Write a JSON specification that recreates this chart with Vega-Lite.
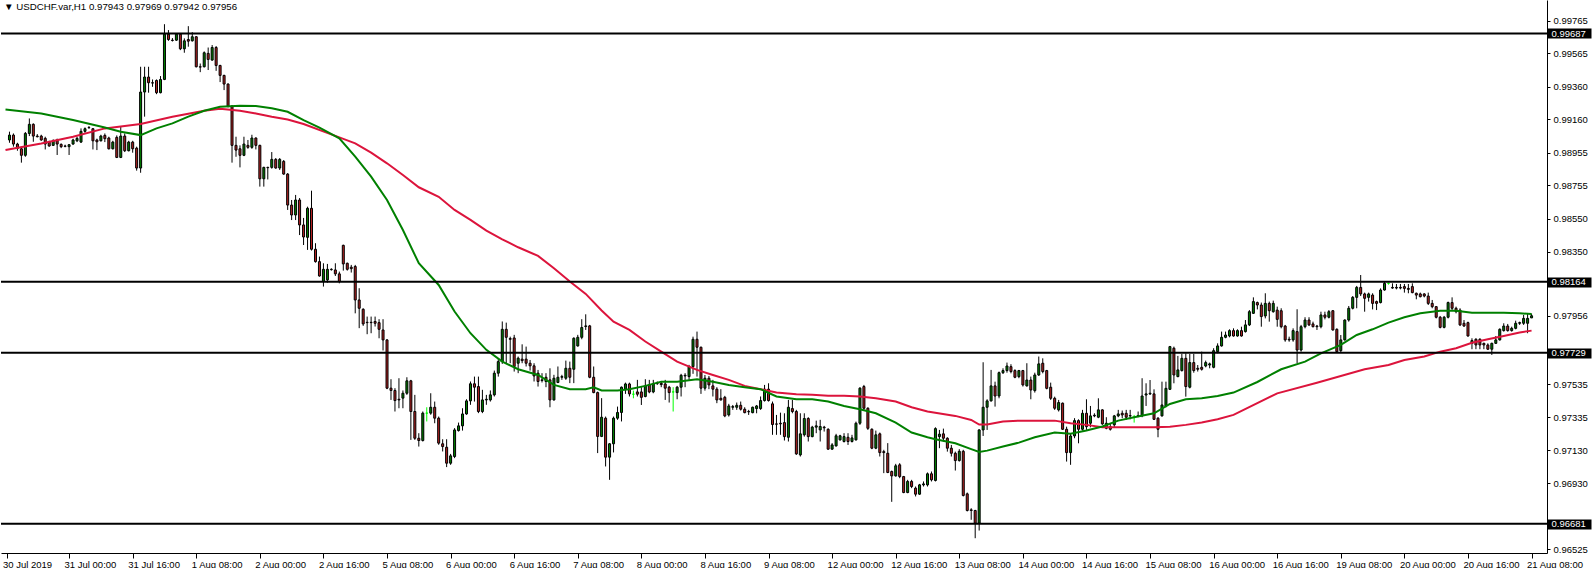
{
  "$schema": "https://vega.github.io/schema/vega-lite/v6.json",
  "width": 1546,
  "height": 553,
  "padding": 0,
  "background": "white",
  "config": {"view": {"stroke": null}},
  "title": {"text": "▼ USDCHF.var,H1  0.97943 0.97969 0.97942 0.97956", "anchor": "start", "frame": "group", "orient": "top", "offset": -12, "font": "Liberation Sans", "fontSize": 9.7, "fontWeight": "normal", "color": "black", "dx": 3},
  "datasets": {
    "candles": [
{"i":1,"o":0.99034,"h":0.99085,"l":0.99017,"c":0.99064},
{"i":2,"o":0.99064,"h":0.99074,"l":0.98993,"c":0.99009},
{"i":3,"o":0.99009,"h":0.99017,"l":0.98968,"c":0.98982},
{"i":4,"o":0.98980,"h":0.98993,"l":0.98895,"c":0.98940},
{"i":5,"o":0.98940,"h":0.99083,"l":0.98931,"c":0.99074},
{"i":6,"o":0.99074,"h":0.99166,"l":0.99058,"c":0.99130},
{"i":7,"o":0.99130,"h":0.99136,"l":0.99023,"c":0.99058},
{"i":8,"o":0.99058,"h":0.99070,"l":0.99050,"c":0.99054},
{"i":9,"o":0.99058,"h":0.99066,"l":0.99029,"c":0.99034},
{"i":10,"o":0.99044,"h":0.99054,"l":0.98976,"c":0.99009},
{"i":11,"o":0.99021,"h":0.99029,"l":0.98993,"c":0.98997},
{"i":12,"o":0.99001,"h":0.99038,"l":0.98997,"c":0.99029},
{"i":13,"o":0.99034,"h":0.99042,"l":0.98942,"c":0.99009},
{"i":14,"o":0.99007,"h":0.99013,"l":0.98984,"c":0.98993},
{"i":15,"o":0.98997,"h":0.99005,"l":0.98989,"c":0.98995},
{"i":16,"o":0.98993,"h":0.99009,"l":0.98942,"c":0.99005},
{"i":17,"o":0.99009,"h":0.99042,"l":0.99005,"c":0.99034},
{"i":18,"o":0.99029,"h":0.99054,"l":0.99021,"c":0.99044},
{"i":19,"o":0.99021,"h":0.99105,"l":0.99017,"c":0.99087},
{"i":20,"o":0.99087,"h":0.99111,"l":0.99078,"c":0.99103},
{"i":21,"o":0.99111,"h":0.99119,"l":0.99103,"c":0.99109},
{"i":22,"o":0.99103,"h":0.99107,"l":0.98976,"c":0.99029},
{"i":23,"o":0.99034,"h":0.99042,"l":0.98972,"c":0.99023},
{"i":24,"o":0.99029,"h":0.99066,"l":0.99025,"c":0.99058},
{"i":25,"o":0.99062,"h":0.99074,"l":0.99021,"c":0.99042},
{"i":26,"o":0.99046,"h":0.99054,"l":0.98976,"c":0.98980},
{"i":27,"o":0.98980,"h":0.99029,"l":0.98976,"c":0.99021},
{"i":28,"o":0.99050,"h":0.99062,"l":0.98923,"c":0.98927},
{"i":29,"o":0.98927,"h":0.99115,"l":0.98923,"c":0.99058},
{"i":30,"o":0.99058,"h":0.99074,"l":0.98960,"c":0.98968},
{"i":31,"o":0.98968,"h":0.99029,"l":0.98964,"c":0.99021},
{"i":32,"o":0.99021,"h":0.99029,"l":0.98956,"c":0.98980},
{"i":33,"o":0.98984,"h":0.98993,"l":0.98846,"c":0.98862},
{"i":34,"o":0.98862,"h":0.99483,"l":0.98833,"c":0.99328},
{"i":35,"o":0.99328,"h":0.99483,"l":0.99177,"c":0.99420},
{"i":36,"o":0.99420,"h":0.99483,"l":0.99324,"c":0.99385},
{"i":37,"o":0.99385,"h":0.99405,"l":0.99360,"c":0.99383},
{"i":38,"o":0.99399,"h":0.99405,"l":0.99315,"c":0.99324},
{"i":39,"o":0.99324,"h":0.99426,"l":0.99320,"c":0.99405},
{"i":40,"o":0.99405,"h":0.99744,"l":0.99401,"c":0.99683},
{"i":41,"o":0.99683,"h":0.99708,"l":0.99642,"c":0.99650},
{"i":42,"o":0.99646,"h":0.99659,"l":0.99638,"c":0.99644},
{"i":43,"o":0.99646,"h":0.99687,"l":0.99642,"c":0.99683},
{"i":44,"o":0.99683,"h":0.99687,"l":0.99585,"c":0.99593},
{"i":45,"o":0.99593,"h":0.99657,"l":0.99569,"c":0.99642},
{"i":46,"o":0.99650,"h":0.99732,"l":0.99606,"c":0.99640},
{"i":47,"o":0.99642,"h":0.99695,"l":0.99638,"c":0.99667},
{"i":48,"o":0.99667,"h":0.99671,"l":0.99479,"c":0.99483},
{"i":49,"o":0.99483,"h":0.99503,"l":0.99450,"c":0.99481},
{"i":50,"o":0.99483,"h":0.99577,"l":0.99479,"c":0.99569},
{"i":51,"o":0.99565,"h":0.99601,"l":0.99463,"c":0.99528},
{"i":52,"o":0.99524,"h":0.99616,"l":0.99520,"c":0.99601},
{"i":53,"o":0.99601,"h":0.99610,"l":0.99458,"c":0.99491},
{"i":54,"o":0.99491,"h":0.99495,"l":0.99389,"c":0.99430},
{"i":55,"o":0.99430,"h":0.99434,"l":0.99340,"c":0.99377},
{"i":56,"o":0.99377,"h":0.99381,"l":0.99234,"c":0.99242},
{"i":57,"o":0.99242,"h":0.99246,"l":0.98895,"c":0.99001},
{"i":58,"o":0.99001,"h":0.99054,"l":0.98931,"c":0.98972},
{"i":59,"o":0.98980,"h":0.99001,"l":0.98866,"c":0.98940},
{"i":60,"o":0.98940,"h":0.99054,"l":0.98935,"c":0.99009},
{"i":61,"o":0.99001,"h":0.99034,"l":0.98980,"c":0.98989},
{"i":62,"o":0.98989,"h":0.99066,"l":0.98980,"c":0.99046},
{"i":63,"o":0.99046,"h":0.99050,"l":0.98976,"c":0.99001},
{"i":64,"o":0.99001,"h":0.99005,"l":0.98748,"c":0.98796},
{"i":65,"o":0.98796,"h":0.98870,"l":0.98748,"c":0.98866},
{"i":66,"o":0.98866,"h":0.98870,"l":0.98792,"c":0.98864},
{"i":67,"o":0.98866,"h":0.98960,"l":0.98858,"c":0.98915},
{"i":68,"o":0.98915,"h":0.98923,"l":0.98858,"c":0.98862},
{"i":69,"o":0.98862,"h":0.98923,"l":0.98850,"c":0.98915},
{"i":70,"o":0.98903,"h":0.98911,"l":0.98821,"c":0.98825},
{"i":71,"o":0.98825,"h":0.98831,"l":0.98605,"c":0.98635},
{"i":72,"o":0.98635,"h":0.98666,"l":0.98543,"c":0.98574},
{"i":73,"o":0.98574,"h":0.98697,"l":0.98543,"c":0.98666},
{"i":74,"o":0.98666,"h":0.98678,"l":0.98451,"c":0.98513},
{"i":75,"o":0.98513,"h":0.98556,"l":0.98390,"c":0.98439},
{"i":76,"o":0.98437,"h":0.98625,"l":0.98360,"c":0.98615},
{"i":77,"o":0.98615,"h":0.98723,"l":0.98356,"c":0.98364},
{"i":78,"o":0.98364,"h":0.98401,"l":0.98282,"c":0.98288},
{"i":79,"o":0.98288,"h":0.98319,"l":0.98196,"c":0.98200},
{"i":80,"o":0.98166,"h":0.98278,"l":0.98135,"c":0.98241},
{"i":81,"o":0.98176,"h":0.98274,"l":0.98159,"c":0.98241},
{"i":82,"o":0.98241,"h":0.98247,"l":0.98233,"c":0.98239},
{"i":83,"o":0.98237,"h":0.98278,"l":0.98200,"c":0.98213},
{"i":84,"o":0.98213,"h":0.98227,"l":0.98155,"c":0.98166},
{"i":85,"o":0.98388,"h":0.98392,"l":0.98233,"c":0.98274},
{"i":86,"o":0.98278,"h":0.98282,"l":0.98233,"c":0.98241},
{"i":87,"o":0.98254,"h":0.98268,"l":0.98221,"c":0.98245},
{"i":88,"o":0.98258,"h":0.98268,"l":0.97971,"c":0.98053},
{"i":89,"o":0.98053,"h":0.98125,"l":0.97880,"c":0.98002},
{"i":90,"o":0.97996,"h":0.98002,"l":0.97894,"c":0.97906},
{"i":91,"o":0.97916,"h":0.97951,"l":0.97843,"c":0.97914},
{"i":92,"o":0.97916,"h":0.97951,"l":0.97849,"c":0.97914},
{"i":93,"o":0.97921,"h":0.97951,"l":0.97890,"c":0.97910},
{"i":94,"o":0.97914,"h":0.97935,"l":0.97818,"c":0.97873},
{"i":95,"o":0.97869,"h":0.97935,"l":0.97743,"c":0.97808},
{"i":96,"o":0.97808,"h":0.97812,"l":0.97506,"c":0.97512},
{"i":97,"o":0.97512,"h":0.97567,"l":0.97440,"c":0.97498},
{"i":98,"o":0.97498,"h":0.97512,"l":0.97369,"c":0.97436},
{"i":99,"o":0.97444,"h":0.97573,"l":0.97389,"c":0.97440},
{"i":100,"o":0.97451,"h":0.97498,"l":0.97389,"c":0.97481},
{"i":101,"o":0.97481,"h":0.97579,"l":0.97471,"c":0.97557},
{"i":102,"o":0.97557,"h":0.97563,"l":0.97195,"c":0.97369},
{"i":103,"o":0.97369,"h":0.97471,"l":0.97195,"c":0.97205},
{"i":104,"o":0.97205,"h":0.97236,"l":0.97154,"c":0.97191},
{"i":105,"o":0.97191,"h":0.97369,"l":0.97185,"c":0.97359},
{"i":106,"o":0.97359,"h":0.97395,"l":0.97308,"c":0.97359},
{"i":107,"o":0.97359,"h":0.97481,"l":0.97349,"c":0.97395},
{"i":108,"o":0.97395,"h":0.97430,"l":0.97297,"c":0.97328},
{"i":109,"o":0.97328,"h":0.97338,"l":0.97165,"c":0.97175},
{"i":110,"o":0.97171,"h":0.97199,"l":0.97124,"c":0.97154},
{"i":111,"o":0.97150,"h":0.97199,"l":0.97028,"c":0.97052},
{"i":112,"o":0.97052,"h":0.97109,"l":0.97042,"c":0.97097},
{"i":113,"o":0.97093,"h":0.97267,"l":0.97083,"c":0.97256},
{"i":114,"o":0.97252,"h":0.97301,"l":0.97246,"c":0.97281},
{"i":115,"o":0.97281,"h":0.97389,"l":0.97252,"c":0.97354},
{"i":116,"o":0.97354,"h":0.97444,"l":0.97349,"c":0.97434},
{"i":117,"o":0.97434,"h":0.97553,"l":0.97410,"c":0.97539},
{"i":118,"o":0.97539,"h":0.97583,"l":0.97430,"c":0.97518},
{"i":119,"o":0.97522,"h":0.97583,"l":0.97359,"c":0.97369},
{"i":120,"o":0.97369,"h":0.97502,"l":0.97359,"c":0.97440},
{"i":121,"o":0.97440,"h":0.97471,"l":0.97410,"c":0.97444},
{"i":122,"o":0.97440,"h":0.97498,"l":0.97430,"c":0.97471},
{"i":123,"o":0.97471,"h":0.97620,"l":0.97461,"c":0.97604},
{"i":124,"o":0.97604,"h":0.97690,"l":0.97583,"c":0.97675},
{"i":125,"o":0.97675,"h":0.97921,"l":0.97661,"c":0.97873},
{"i":126,"o":0.97873,"h":0.97914,"l":0.97665,"c":0.97824},
{"i":127,"o":0.97816,"h":0.97828,"l":0.97665,"c":0.97812},
{"i":128,"o":0.97820,"h":0.97839,"l":0.97614,"c":0.97645},
{"i":129,"o":0.97665,"h":0.97706,"l":0.97604,"c":0.97696},
{"i":130,"o":0.97690,"h":0.97781,"l":0.97665,"c":0.97681},
{"i":131,"o":0.97690,"h":0.97767,"l":0.97645,"c":0.97665},
{"i":132,"o":0.97665,"h":0.97685,"l":0.97620,"c":0.97649},
{"i":133,"o":0.97649,"h":0.97665,"l":0.97553,"c":0.97587},
{"i":134,"o":0.97604,"h":0.97624,"l":0.97522,"c":0.97553},
{"i":135,"o":0.97563,"h":0.97604,"l":0.97547,"c":0.97559},
{"i":136,"o":0.97579,"h":0.97604,"l":0.97518,"c":0.97553},
{"i":137,"o":0.97563,"h":0.97634,"l":0.97395,"c":0.97440},
{"i":138,"o":0.97440,"h":0.97594,"l":0.97436,"c":0.97573},
{"i":139,"o":0.97547,"h":0.97645,"l":0.97543,"c":0.97579},
{"i":140,"o":0.97579,"h":0.97594,"l":0.97563,"c":0.97583},
{"i":141,"o":0.97573,"h":0.97681,"l":0.97563,"c":0.97634},
{"i":142,"o":0.97634,"h":0.97675,"l":0.97543,"c":0.97579},
{"i":143,"o":0.97628,"h":0.97824,"l":0.97543,"c":0.97818},
{"i":144,"o":0.97771,"h":0.97839,"l":0.97767,"c":0.97824},
{"i":145,"o":0.97824,"h":0.97935,"l":0.97812,"c":0.97884},
{"i":146,"o":0.97890,"h":0.97965,"l":0.97869,"c":0.97894},
{"i":147,"o":0.97894,"h":0.97900,"l":0.97573,"c":0.97579},
{"i":148,"o":0.97579,"h":0.97645,"l":0.97481,"c":0.97485},
{"i":149,"o":0.97485,"h":0.97491,"l":0.97114,"c":0.97216},
{"i":150,"o":0.97216,"h":0.97451,"l":0.97212,"c":0.97334},
{"i":151,"o":0.97328,"h":0.97338,"l":0.97032,"c":0.97089},
{"i":152,"o":0.97089,"h":0.97175,"l":0.96950,"c":0.97171},
{"i":153,"o":0.97171,"h":0.97338,"l":0.97118,"c":0.97328},
{"i":154,"o":0.97328,"h":0.97399,"l":0.97318,"c":0.97363},
{"i":155,"o":0.97363,"h":0.97522,"l":0.97308,"c":0.97518},
{"i":156,"o":0.97506,"h":0.97546,"l":0.97477,"c":0.97538},
{"i":157,"o":0.97538,"h":0.97546,"l":0.97461,"c":0.97477},
{"i":158,"o":0.97475,"h":0.97497,"l":0.97450,"c":0.97475},
{"i":159,"o":0.97489,"h":0.97563,"l":0.97461,"c":0.97475},
{"i":160,"o":0.97489,"h":0.97518,"l":0.97409,"c":0.97456},
{"i":161,"o":0.97461,"h":0.97567,"l":0.97456,"c":0.97526},
{"i":162,"o":0.97532,"h":0.97563,"l":0.97481,"c":0.97489},
{"i":163,"o":0.97489,"h":0.97563,"l":0.97481,"c":0.97538},
{"i":164,"o":0.97542,"h":0.97553,"l":0.97532,"c":0.97540},
{"i":165,"o":0.97542,"h":0.97555,"l":0.97518,"c":0.97534},
{"i":166,"o":0.97538,"h":0.97563,"l":0.97440,"c":0.97512},
{"i":167,"o":0.97518,"h":0.97526,"l":0.97424,"c":0.97485},
{"i":168,"o":0.97489,"h":0.97518,"l":0.97369,"c":0.97489},
{"i":169,"o":0.97485,"h":0.97526,"l":0.97444,"c":0.97518},
{"i":170,"o":0.97518,"h":0.97600,"l":0.97461,"c":0.97591},
{"i":171,"o":0.97587,"h":0.97604,"l":0.97518,"c":0.97591},
{"i":172,"o":0.97583,"h":0.97655,"l":0.97563,"c":0.97644},
{"i":173,"o":0.97644,"h":0.97828,"l":0.97600,"c":0.97812},
{"i":174,"o":0.97812,"h":0.97859,"l":0.97583,"c":0.97763},
{"i":175,"o":0.97763,"h":0.97767,"l":0.97477,"c":0.97512},
{"i":176,"o":0.97512,"h":0.97593,"l":0.97497,"c":0.97573},
{"i":177,"o":0.97573,"h":0.97587,"l":0.97506,"c":0.97532},
{"i":178,"o":0.97526,"h":0.97563,"l":0.97461,"c":0.97506},
{"i":179,"o":0.97506,"h":0.97518,"l":0.97420,"c":0.97440},
{"i":180,"o":0.97450,"h":0.97506,"l":0.97436,"c":0.97440},
{"i":181,"o":0.97456,"h":0.97465,"l":0.97334,"c":0.97342},
{"i":182,"o":0.97348,"h":0.97416,"l":0.97338,"c":0.97403},
{"i":183,"o":0.97395,"h":0.97409,"l":0.97379,"c":0.97399},
{"i":184,"o":0.97395,"h":0.97424,"l":0.97379,"c":0.97407},
{"i":185,"o":0.97407,"h":0.97430,"l":0.97375,"c":0.97383},
{"i":186,"o":0.97383,"h":0.97395,"l":0.97358,"c":0.97362},
{"i":187,"o":0.97369,"h":0.97379,"l":0.97348,"c":0.97367},
{"i":188,"o":0.97362,"h":0.97399,"l":0.97358,"c":0.97395},
{"i":189,"o":0.97387,"h":0.97409,"l":0.97358,"c":0.97403},
{"i":190,"o":0.97387,"h":0.97461,"l":0.97379,"c":0.97436},
{"i":191,"o":0.97436,"h":0.97532,"l":0.97430,"c":0.97506},
{"i":192,"o":0.97506,"h":0.97542,"l":0.97430,"c":0.97436},
{"i":193,"o":0.97416,"h":0.97430,"l":0.97226,"c":0.97289},
{"i":194,"o":0.97293,"h":0.97348,"l":0.97226,"c":0.97291},
{"i":195,"o":0.97297,"h":0.97362,"l":0.97226,"c":0.97293},
{"i":196,"o":0.97301,"h":0.97358,"l":0.97191,"c":0.97215},
{"i":197,"o":0.97211,"h":0.97440,"l":0.97185,"c":0.97395},
{"i":198,"o":0.97387,"h":0.97440,"l":0.97358,"c":0.97369},
{"i":199,"o":0.97369,"h":0.97379,"l":0.97103,"c":0.97109},
{"i":200,"o":0.97103,"h":0.97358,"l":0.97093,"c":0.97232},
{"i":201,"o":0.97226,"h":0.97358,"l":0.97215,"c":0.97326},
{"i":202,"o":0.97326,"h":0.97334,"l":0.97185,"c":0.97215},
{"i":203,"o":0.97215,"h":0.97281,"l":0.97211,"c":0.97273},
{"i":204,"o":0.97273,"h":0.97313,"l":0.97236,"c":0.97281},
{"i":205,"o":0.97256,"h":0.97318,"l":0.97185,"c":0.97277},
{"i":206,"o":0.97273,"h":0.97281,"l":0.97246,"c":0.97269},
{"i":207,"o":0.97260,"h":0.97266,"l":0.97134,"c":0.97138},
{"i":208,"o":0.97138,"h":0.97175,"l":0.97134,"c":0.97164},
{"i":209,"o":0.97158,"h":0.97232,"l":0.97154,"c":0.97220},
{"i":210,"o":0.97195,"h":0.97226,"l":0.97191,"c":0.97220},
{"i":211,"o":0.97185,"h":0.97236,"l":0.97179,"c":0.97215},
{"i":212,"o":0.97211,"h":0.97236,"l":0.97164,"c":0.97185},
{"i":213,"o":0.97185,"h":0.97226,"l":0.97179,"c":0.97207},
{"i":214,"o":0.97195,"h":0.97307,"l":0.97191,"c":0.97297},
{"i":215,"o":0.97297,"h":0.97518,"l":0.97287,"c":0.97512},
{"i":216,"o":0.97522,"h":0.97532,"l":0.97379,"c":0.97389},
{"i":217,"o":0.97389,"h":0.97395,"l":0.97256,"c":0.97266},
{"i":218,"o":0.97260,"h":0.97266,"l":0.97138,"c":0.97144},
{"i":219,"o":0.97144,"h":0.97252,"l":0.97138,"c":0.97226},
{"i":220,"o":0.97232,"h":0.97240,"l":0.97093,"c":0.97117},
{"i":221,"o":0.97123,"h":0.97134,"l":0.96991,"c":0.97117},
{"i":222,"o":0.97113,"h":0.97175,"l":0.96991,"c":0.96995},
{"i":223,"o":0.97001,"h":0.97007,"l":0.96815,"c":0.96974},
{"i":224,"o":0.96974,"h":0.97048,"l":0.96970,"c":0.97036},
{"i":225,"o":0.97042,"h":0.97052,"l":0.96960,"c":0.96970},
{"i":226,"o":0.96970,"h":0.96974,"l":0.96868,"c":0.96872},
{"i":227,"o":0.96872,"h":0.96950,"l":0.96868,"c":0.96940},
{"i":228,"o":0.96940,"h":0.96950,"l":0.96899,"c":0.96909},
{"i":229,"o":0.96899,"h":0.96909,"l":0.96848,"c":0.96862},
{"i":230,"o":0.96862,"h":0.96925,"l":0.96858,"c":0.96919},
{"i":231,"o":0.96919,"h":0.96940,"l":0.96909,"c":0.96925},
{"i":232,"o":0.96919,"h":0.96995,"l":0.96909,"c":0.96987},
{"i":233,"o":0.96987,"h":0.97001,"l":0.96940,"c":0.96950},
{"i":234,"o":0.96946,"h":0.97272,"l":0.96940,"c":0.97264},
{"i":235,"o":0.97215,"h":0.97256,"l":0.97144,"c":0.97230},
{"i":236,"o":0.97232,"h":0.97264,"l":0.97185,"c":0.97205},
{"i":237,"o":0.97205,"h":0.97211,"l":0.97123,"c":0.97144},
{"i":238,"o":0.97144,"h":0.97164,"l":0.97093,"c":0.97113},
{"i":239,"o":0.97113,"h":0.97123,"l":0.97007,"c":0.97068},
{"i":240,"o":0.97068,"h":0.97138,"l":0.97062,"c":0.97125},
{"i":241,"o":0.97125,"h":0.97134,"l":0.96848,"c":0.96854},
{"i":242,"o":0.96864,"h":0.96872,"l":0.96756,"c":0.96762},
{"i":243,"o":0.96766,"h":0.96776,"l":0.96705,"c":0.96762},
{"i":244,"o":0.96762,"h":0.96766,"l":0.96592,"c":0.96684},
{"i":245,"o":0.96684,"h":0.97260,"l":0.96639,"c":0.97256},
{"i":246,"o":0.97256,"h":0.97671,"l":0.97219,"c":0.97395},
{"i":247,"o":0.97395,"h":0.97444,"l":0.97256,"c":0.97434},
{"i":248,"o":0.97434,"h":0.97624,"l":0.97430,"c":0.97526},
{"i":249,"o":0.97526,"h":0.97552,"l":0.97399,"c":0.97464},
{"i":250,"o":0.97464,"h":0.97614,"l":0.97450,"c":0.97607},
{"i":251,"o":0.97607,"h":0.97634,"l":0.97599,"c":0.97620},
{"i":252,"o":0.97620,"h":0.97669,"l":0.97607,"c":0.97648},
{"i":253,"o":0.97644,"h":0.97659,"l":0.97603,"c":0.97614},
{"i":254,"o":0.97620,"h":0.97628,"l":0.97573,"c":0.97579},
{"i":255,"o":0.97583,"h":0.97624,"l":0.97573,"c":0.97620},
{"i":256,"o":0.97620,"h":0.97624,"l":0.97522,"c":0.97532},
{"i":257,"o":0.97526,"h":0.97665,"l":0.97522,"c":0.97562},
{"i":258,"o":0.97562,"h":0.97583,"l":0.97444,"c":0.97501},
{"i":259,"o":0.97497,"h":0.97607,"l":0.97485,"c":0.97593},
{"i":260,"o":0.97593,"h":0.97706,"l":0.97587,"c":0.97661},
{"i":261,"o":0.97665,"h":0.97695,"l":0.97603,"c":0.97614},
{"i":262,"o":0.97620,"h":0.97624,"l":0.97505,"c":0.97511},
{"i":263,"o":0.97518,"h":0.97546,"l":0.97440,"c":0.97450},
{"i":264,"o":0.97450,"h":0.97460,"l":0.97379,"c":0.97389},
{"i":265,"o":0.97379,"h":0.97440,"l":0.97369,"c":0.97424},
{"i":266,"o":0.97420,"h":0.97424,"l":0.97256,"c":0.97260},
{"i":267,"o":0.97260,"h":0.97276,"l":0.97062,"c":0.97117},
{"i":268,"o":0.97117,"h":0.97236,"l":0.97042,"c":0.97219},
{"i":269,"o":0.97219,"h":0.97328,"l":0.97205,"c":0.97313},
{"i":270,"o":0.97313,"h":0.97321,"l":0.97174,"c":0.97260},
{"i":271,"o":0.97260,"h":0.97379,"l":0.97252,"c":0.97358},
{"i":272,"o":0.97358,"h":0.97444,"l":0.97256,"c":0.97276},
{"i":273,"o":0.97297,"h":0.97403,"l":0.97272,"c":0.97342},
{"i":274,"o":0.97342,"h":0.97358,"l":0.97334,"c":0.97346},
{"i":275,"o":0.97334,"h":0.97450,"l":0.97328,"c":0.97379},
{"i":276,"o":0.97379,"h":0.97383,"l":0.97287,"c":0.97293},
{"i":277,"o":0.97266,"h":0.97334,"l":0.97260,"c":0.97297},
{"i":278,"o":0.97276,"h":0.97293,"l":0.97252,"c":0.97260},
{"i":279,"o":0.97287,"h":0.97348,"l":0.97272,"c":0.97342},
{"i":280,"o":0.97342,"h":0.97379,"l":0.97334,"c":0.97354},
{"i":281,"o":0.97358,"h":0.97375,"l":0.97328,"c":0.97348},
{"i":282,"o":0.97358,"h":0.97379,"l":0.97317,"c":0.97334},
{"i":283,"o":0.97342,"h":0.97379,"l":0.97321,"c":0.97344},
{"i":284,"o":0.97334,"h":0.97348,"l":0.97301,"c":0.97334},
{"i":285,"o":0.97342,"h":0.97369,"l":0.97334,"c":0.97344},
{"i":286,"o":0.97342,"h":0.97573,"l":0.97334,"c":0.97464},
{"i":287,"o":0.97470,"h":0.97542,"l":0.97403,"c":0.97477},
{"i":288,"o":0.97477,"h":0.97562,"l":0.97470,"c":0.97481},
{"i":289,"o":0.97477,"h":0.97505,"l":0.97317,"c":0.97321},
{"i":290,"o":0.97328,"h":0.97334,"l":0.97211,"c":0.97260},
{"i":291,"o":0.97342,"h":0.97552,"l":0.97338,"c":0.97409},
{"i":292,"o":0.97403,"h":0.97552,"l":0.97395,"c":0.97511},
{"i":293,"o":0.97505,"h":0.97771,"l":0.97501,"c":0.97767},
{"i":294,"o":0.97757,"h":0.97767,"l":0.97542,"c":0.97593},
{"i":295,"o":0.97583,"h":0.97710,"l":0.97579,"c":0.97624},
{"i":296,"o":0.97620,"h":0.97722,"l":0.97614,"c":0.97695},
{"i":297,"o":0.97695,"h":0.97726,"l":0.97460,"c":0.97522},
{"i":298,"o":0.97518,"h":0.97722,"l":0.97511,"c":0.97669},
{"i":299,"o":0.97669,"h":0.97722,"l":0.97607,"c":0.97620},
{"i":300,"o":0.97634,"h":0.97654,"l":0.97614,"c":0.97628},
{"i":301,"o":0.97640,"h":0.97736,"l":0.97620,"c":0.97628},
{"i":302,"o":0.97648,"h":0.97681,"l":0.97640,"c":0.97669},
{"i":303,"o":0.97654,"h":0.97669,"l":0.97634,"c":0.97661},
{"i":304,"o":0.97640,"h":0.97757,"l":0.97634,"c":0.97742},
{"i":305,"o":0.97736,"h":0.97787,"l":0.97726,"c":0.97771},
{"i":306,"o":0.97771,"h":0.97859,"l":0.97767,"c":0.97824},
{"i":307,"o":0.97824,"h":0.97859,"l":0.97818,"c":0.97838},
{"i":308,"o":0.97832,"h":0.97873,"l":0.97824,"c":0.97865},
{"i":309,"o":0.97865,"h":0.97879,"l":0.97828,"c":0.97832},
{"i":310,"o":0.97832,"h":0.97873,"l":0.97828,"c":0.97865},
{"i":311,"o":0.97865,"h":0.97889,"l":0.97828,"c":0.97832},
{"i":312,"o":0.97859,"h":0.97930,"l":0.97853,"c":0.97900},
{"i":313,"o":0.97900,"h":0.97991,"l":0.97893,"c":0.97981},
{"i":314,"o":0.97971,"h":0.98069,"l":0.97967,"c":0.98043},
{"i":315,"o":0.98037,"h":0.98043,"l":0.97995,"c":0.98022},
{"i":316,"o":0.98022,"h":0.98037,"l":0.97889,"c":0.97951},
{"i":317,"o":0.97955,"h":0.98094,"l":0.97940,"c":0.98032},
{"i":318,"o":0.98032,"h":0.98043,"l":0.97920,"c":0.97987},
{"i":319,"o":0.97981,"h":0.98049,"l":0.97975,"c":0.98032},
{"i":320,"o":0.97991,"h":0.98012,"l":0.97889,"c":0.97934},
{"i":321,"o":0.97987,"h":0.98002,"l":0.97879,"c":0.97889},
{"i":322,"o":0.97893,"h":0.97900,"l":0.97797,"c":0.97808},
{"i":323,"o":0.97812,"h":0.97828,"l":0.97797,"c":0.97808},
{"i":324,"o":0.97808,"h":0.97879,"l":0.97797,"c":0.97865},
{"i":325,"o":0.97859,"h":0.97996,"l":0.97665,"c":0.97746},
{"i":326,"o":0.97746,"h":0.97900,"l":0.97736,"c":0.97889},
{"i":327,"o":0.97889,"h":0.97947,"l":0.97879,"c":0.97930},
{"i":328,"o":0.97930,"h":0.97947,"l":0.97893,"c":0.97900},
{"i":329,"o":0.97906,"h":0.97920,"l":0.97885,"c":0.97889},
{"i":330,"o":0.97893,"h":0.97900,"l":0.97869,"c":0.97889},
{"i":331,"o":0.97889,"h":0.97981,"l":0.97879,"c":0.97961},
{"i":332,"o":0.97961,"h":0.97981,"l":0.97934,"c":0.97947},
{"i":333,"o":0.97947,"h":0.97991,"l":0.97940,"c":0.97981},
{"i":334,"o":0.97987,"h":0.97991,"l":0.97865,"c":0.97869},
{"i":335,"o":0.97873,"h":0.97879,"l":0.97730,"c":0.97736},
{"i":336,"o":0.97742,"h":0.97838,"l":0.97730,"c":0.97808},
{"i":337,"o":0.97808,"h":0.97934,"l":0.97804,"c":0.97930},
{"i":338,"o":0.97930,"h":0.98016,"l":0.97920,"c":0.98002},
{"i":339,"o":0.98002,"h":0.98077,"l":0.97995,"c":0.98069},
{"i":340,"o":0.98069,"h":0.98139,"l":0.98002,"c":0.98130},
{"i":341,"o":0.98130,"h":0.98206,"l":0.98077,"c":0.98090},
{"i":342,"o":0.98090,"h":0.98098,"l":0.97981,"c":0.98063},
{"i":343,"o":0.98069,"h":0.98098,"l":0.98043,"c":0.98090},
{"i":344,"o":0.98083,"h":0.98094,"l":0.97995,"c":0.98032},
{"i":345,"o":0.98043,"h":0.98049,"l":0.97991,"c":0.98032},
{"i":346,"o":0.98037,"h":0.98124,"l":0.98032,"c":0.98114},
{"i":347,"o":0.98114,"h":0.98165,"l":0.98110,"c":0.98155},
{"i":348,"o":0.98155,"h":0.98159,"l":0.98147,"c":0.98155},
{"i":349,"o":0.98130,"h":0.98155,"l":0.98122,"c":0.98126},
{"i":350,"o":0.98130,"h":0.98151,"l":0.98118,"c":0.98126},
{"i":351,"o":0.98130,"h":0.98151,"l":0.98118,"c":0.98126},
{"i":352,"o":0.98135,"h":0.98151,"l":0.98098,"c":0.98124},
{"i":353,"o":0.98124,"h":0.98151,"l":0.98094,"c":0.98118},
{"i":354,"o":0.98135,"h":0.98155,"l":0.98094,"c":0.98098},
{"i":355,"o":0.98094,"h":0.98098,"l":0.98057,"c":0.98083},
{"i":356,"o":0.98090,"h":0.98098,"l":0.98069,"c":0.98073},
{"i":357,"o":0.98090,"h":0.98094,"l":0.98069,"c":0.98077},
{"i":358,"o":0.98077,"h":0.98098,"l":0.98022,"c":0.98032},
{"i":359,"o":0.98032,"h":0.98053,"l":0.98002,"c":0.98012},
{"i":360,"o":0.98012,"h":0.98016,"l":0.97940,"c":0.97947},
{"i":361,"o":0.97947,"h":0.97955,"l":0.97879,"c":0.97885},
{"i":362,"o":0.97885,"h":0.97955,"l":0.97879,"c":0.97947},
{"i":363,"o":0.97947,"h":0.98043,"l":0.97940,"c":0.98037},
{"i":364,"o":0.98037,"h":0.98069,"l":0.97991,"c":0.98002},
{"i":365,"o":0.98002,"h":0.98012,"l":0.97971,"c":0.97981},
{"i":366,"o":0.97991,"h":0.98002,"l":0.97893,"c":0.97900},
{"i":367,"o":0.97910,"h":0.97930,"l":0.97889,"c":0.97893},
{"i":368,"o":0.97914,"h":0.97920,"l":0.97828,"c":0.97832},
{"i":369,"o":0.97787,"h":0.97818,"l":0.97751,"c":0.97804},
{"i":370,"o":0.97812,"h":0.97818,"l":0.97751,"c":0.97777},
{"i":371,"o":0.97812,"h":0.97818,"l":0.97751,"c":0.97777},
{"i":372,"o":0.97787,"h":0.97791,"l":0.97751,"c":0.97777},
{"i":373,"o":0.97777,"h":0.97787,"l":0.97746,"c":0.97751},
{"i":374,"o":0.97751,"h":0.97791,"l":0.97716,"c":0.97787},
{"i":375,"o":0.97787,"h":0.97832,"l":0.97783,"c":0.97808},
{"i":376,"o":0.97808,"h":0.97879,"l":0.97804,"c":0.97873},
{"i":377,"o":0.97865,"h":0.97910,"l":0.97859,"c":0.97893},
{"i":378,"o":0.97893,"h":0.97906,"l":0.97859,"c":0.97865},
{"i":379,"o":0.97865,"h":0.97889,"l":0.97859,"c":0.97879},
{"i":380,"o":0.97879,"h":0.97926,"l":0.97873,"c":0.97910},
{"i":381,"o":0.97910,"h":0.97920,"l":0.97900,"c":0.97914},
{"i":382,"o":0.97910,"h":0.97961,"l":0.97900,"c":0.97940},
{"i":383,"o":0.97910,"h":0.97967,"l":0.97849,"c":0.97940},
{"i":384,"o":0.97943,"h":0.97969,"l":0.97942,"c":0.97956}
    ],
    "maFast": [
{"i":0,"v":0.99221},{"i":9,"v":0.99197},{"i":17,"v":0.99156},{"i":25,"v":0.99111},{"i":29,"v":0.99085},{"i":34,"v":0.99064},{"i":38,"v":0.99105},{"i":42,"v":0.99136},{"i":46,"v":0.99177},{"i":50,"v":0.99213},{"i":54,"v":0.99238},{"i":59,"v":0.99244},{"i":63,"v":0.99242},{"i":67,"v":0.99228},{"i":71,"v":0.99207},{"i":75,"v":0.99156},{"i":79,"v":0.99110},{"i":84,"v":0.99044},{"i":88,"v":0.98932},{"i":92,"v":0.98809},{"i":96,"v":0.98666},{"i":100,"v":0.98482},{"i":104,"v":0.98278},{"i":109,"v":0.98145},{"i":113,"v":0.97982},{"i":117,"v":0.97849},{"i":121,"v":0.97747},{"i":125,"v":0.97675},{"i":129,"v":0.97628},{"i":134,"v":0.97593},{"i":138,"v":0.97532},{"i":142,"v":0.97506},{"i":146,"v":0.97506},{"i":148,"v":0.97518},{"i":150,"v":0.97498},{"i":154,"v":0.97498},{"i":157,"v":0.97506},{"i":161,"v":0.97526},{"i":165,"v":0.97552},{"i":169,"v":0.97552},{"i":174,"v":0.97567},{"i":178,"v":0.97552},{"i":182,"v":0.97532},{"i":186,"v":0.97518},{"i":190,"v":0.97506},{"i":194,"v":0.97461},{"i":199,"v":0.97444},{"i":203,"v":0.97444},{"i":207,"v":0.97430},{"i":211,"v":0.97403},{"i":215,"v":0.97383},{"i":219,"v":0.97358},{"i":224,"v":0.97301},{"i":228,"v":0.97240},{"i":232,"v":0.97211},{"i":234,"v":0.97199},{"i":239,"v":0.97174},{"i":243,"v":0.97138},{"i":245,"v":0.97121},{"i":247,"v":0.97129},{"i":251,"v":0.97154},{"i":255,"v":0.97178},{"i":259,"v":0.97211},{"i":264,"v":0.97240},{"i":268,"v":0.97232},{"i":272,"v":0.97252},{"i":276,"v":0.97277},{"i":280,"v":0.97313},{"i":284,"v":0.97334},{"i":289,"v":0.97358},{"i":293,"v":0.97415},{"i":297,"v":0.97444},{"i":301,"v":0.97450},{"i":305,"v":0.97464},{"i":309,"v":0.97485},{"i":315,"v":0.97550},{"i":321,"v":0.97628},{"i":327,"v":0.97675},{"i":331,"v":0.97726},{"i":336,"v":0.97777},{"i":340,"v":0.97838},{"i":344,"v":0.97873},{"i":348,"v":0.97914},{"i":352,"v":0.97947},{"i":356,"v":0.97971},{"i":361,"v":0.97987},{"i":365,"v":0.97987},{"i":369,"v":0.97975},{"i":373,"v":0.97975},{"i":377,"v":0.97975},{"i":381,"v":0.97971},{"i":384,"v":0.97967}
    ],
    "maSlow": [
{"i":0,"v":0.98972},{"i":9,"v":0.99013},{"i":17,"v":0.99054},{"i":25,"v":0.99105},{"i":34,"v":0.99132},{"i":42,"v":0.99177},{"i":50,"v":0.99213},{"i":54,"v":0.99226},{"i":59,"v":0.99213},{"i":63,"v":0.99197},{"i":67,"v":0.99177},{"i":71,"v":0.99160},{"i":75,"v":0.99132},{"i":84,"v":0.99050},{"i":88,"v":0.99013},{"i":92,"v":0.98956},{"i":96,"v":0.98891},{"i":100,"v":0.98819},{"i":104,"v":0.98744},{"i":109,"v":0.98686},{"i":113,"v":0.98605},{"i":117,"v":0.98544},{"i":121,"v":0.98478},{"i":125,"v":0.98425},{"i":129,"v":0.98376},{"i":134,"v":0.98323},{"i":138,"v":0.98247},{"i":142,"v":0.98166},{"i":146,"v":0.98090},{"i":150,"v":0.97988},{"i":153,"v":0.97920},{"i":157,"v":0.97869},{"i":161,"v":0.97798},{"i":165,"v":0.97736},{"i":169,"v":0.97675},{"i":174,"v":0.97624},{"i":178,"v":0.97593},{"i":182,"v":0.97563},{"i":186,"v":0.97526},{"i":190,"v":0.97506},{"i":194,"v":0.97485},{"i":199,"v":0.97475},{"i":203,"v":0.97471},{"i":207,"v":0.97465},{"i":211,"v":0.97465},{"i":215,"v":0.97461},{"i":219,"v":0.97450},{"i":224,"v":0.97430},{"i":228,"v":0.97395},{"i":232,"v":0.97369},{"i":239,"v":0.97342},{"i":243,"v":0.97317},{"i":245,"v":0.97289},{"i":247,"v":0.97289},{"i":251,"v":0.97307},{"i":255,"v":0.97313},{"i":259,"v":0.97313},{"i":264,"v":0.97313},{"i":268,"v":0.97297},{"i":272,"v":0.97287},{"i":276,"v":0.97272},{"i":280,"v":0.97272},{"i":284,"v":0.97272},{"i":289,"v":0.97272},{"i":293,"v":0.97276},{"i":297,"v":0.97287},{"i":301,"v":0.97301},{"i":305,"v":0.97321},{"i":309,"v":0.97348},{"i":320,"v":0.97480},{"i":330,"v":0.97545},{"i":342,"v":0.97628},{"i":348,"v":0.97654},{"i":352,"v":0.97685},{"i":357,"v":0.97706},{"i":361,"v":0.97736},{"i":365,"v":0.97757},{"i":369,"v":0.97791},{"i":373,"v":0.97812},{"i":377,"v":0.97832},{"i":381,"v":0.97853},{"i":384,"v":0.97865}
    ],
    "levels": [{"p":0.99687},{"p":0.98164},{"p":0.97729},{"p":0.96681}]
  },
  "encoding": {
    "x": {"field": "i", "type": "quantitative", "scale": {"domain": [0.125, 386.625], "nice": false, "zero": false},
      "axis": {"orient": "bottom", "title": null, "grid": false, "zindex": 0, "tickCount": 60,
        "values": [0.5,16,32,48,64,80,96,112,128,144,160,176,192,208,224,240,256,272,288,304,320,336,352,368,384],
        "labelExpr": "['30 Jul 2019','31 Jul 00:00','31 Jul 16:00','1 Aug 08:00','2 Aug 00:00','2 Aug 16:00','5 Aug 08:00','6 Aug 00:00','6 Aug 16:00','7 Aug 08:00','8 Aug 00:00','8 Aug 16:00','9 Aug 08:00','12 Aug 00:00','12 Aug 16:00','13 Aug 08:00','14 Aug 00:00','14 Aug 16:00','15 Aug 08:00','16 Aug 00:00','16 Aug 16:00','19 Aug 08:00','20 Aug 00:00','20 Aug 16:00','21 Aug 08:00'][round(datum.value/16)]",
        "labelAlign": "left", "labelOffset": -5, "labelFlush": false, "labelOverlap": false, "labelBound": false,
        "labelFont": "Liberation Sans", "labelFontSize": 9.5, "labelColor": "black", "labelPadding": 1,
        "tickSize": 5, "tickColor": "black", "domainColor": "black", "domainWidth": 1}}
  },
  "layer": [
    {"data": {"name": "candles"}, "mark": {"type": "rule", "strokeWidth": 1},
      "encoding": {"y": {"field": "l", "type": "quantitative", "scale": {"domain": [0.965013, 0.998924], "nice": false, "zero": false},
          "axis": {"orient": "right", "title": null, "grid": false, "zindex": 0, "format": ".5f", "labelOverlap": false, "labelBound": false, "tickCount": 60,
            "values": [0.99765,0.99687,0.99565,0.9936,0.9916,0.98955,0.98755,0.9855,0.9835,0.98164,0.97956,0.97729,0.97535,0.97335,0.9713,0.9693,0.96681,0.96525],
            "labelFont": "Liberation Sans", "labelFontSize": 9.5, "labelBaseline": "middle",
            "labelColor": {"condition": {"test": "indexof([0.99687,0.98164,0.97729,0.96681], datum.value) >= 0", "value": "white"}, "value": "black"},
            "labelPadding": {"condition": {"test": "indexof([0.99687,0.98164,0.97729,0.96681], datum.value) >= 0", "value": -40}, "value": 3},
            "tickSize": {"condition": {"test": "indexof([0.99687,0.98164,0.97729,0.96681], datum.value) >= 0", "value": 44}, "value": 3},
            "tickWidth": {"condition": {"test": "indexof([0.99687,0.98164,0.97729,0.96681], datum.value) >= 0", "value": 10}, "value": 1},
            "tickColor": "black", "domainColor": "black", "domainWidth": 1}},
        "y2": {"field": "h"},
        "color": {"condition": {"test": "datum.o == datum.c", "value": "#00ff00"}, "value": "black"}}},
    {"data": {"name": "candles"}, "mark": {"type": "bar", "size": 2, "strokeWidth": 1},
      "encoding": {"y": {"field": "o", "type": "quantitative"}, "y2": {"field": "c"},
        "fill": {"condition": [{"test": "datum.c > datum.o", "value": "#008000"}, {"test": "datum.c == datum.o", "value": "#00ff00"}], "value": "#b22222"},
        "stroke": {"condition": {"test": "datum.o == datum.c", "value": "#00ff00"}, "value": "black"}}},
    {"data": {"name": "maSlow"}, "mark": {"type": "line", "color": "#dc143c", "strokeWidth": 2},
      "encoding": {"y": {"field": "v", "type": "quantitative"}}},
    {"data": {"name": "maFast"}, "mark": {"type": "line", "color": "#008000", "strokeWidth": 2},
      "encoding": {"y": {"field": "v", "type": "quantitative"}}},
    {"data": {"name": "levels"}, "mark": {"type": "rule", "color": "black", "strokeWidth": 2},
      "encoding": {"x": null, "y": {"field": "p", "type": "quantitative"}}}
  ]
}
